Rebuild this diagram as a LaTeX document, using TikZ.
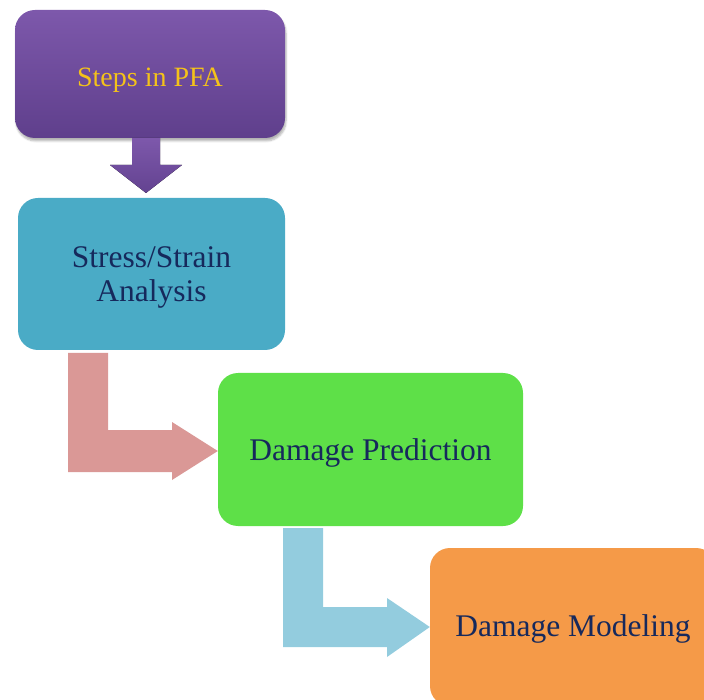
\documentclass[tikz,border=0pt]{standalone}
\usepackage{fontspec}
\setmainfont{Liberation Serif}
\usetikzlibrary{shadows.blur}
\definecolor{purpleTop}{HTML}{7D58AB}
\definecolor{purpleBot}{HTML}{5F3F8C}
\definecolor{gold}{HTML}{F4C21A}
\definecolor{teal}{HTML}{4AABC6}
\definecolor{navy}{HTML}{16295C}
\definecolor{rose}{HTML}{DA9896}
\definecolor{lime}{HTML}{5EE048}
\definecolor{sky}{HTML}{93CCDE}
\definecolor{tangerine}{HTML}{F59A48}
\tikzset{
  stepbox/.style={rounded corners=20pt, minimum width=#1, inner sep=0pt, align=center,
    font=\fontsize{31.5}{34}\selectfont, text=navy, text depth=0pt}
}
\begin{document}
\begin{tikzpicture}[x=1pt,y=-1pt]
\useasboundingbox (0,0) rectangle (704,700);
\clip (0,0) rectangle (704,700);

% boxes
\node[stepbox=270pt, minimum height=128pt, top color=purpleTop, bottom color=purpleBot,
  text=gold, font=\fontsize{28}{30}\selectfont, text height=26pt,
  blur shadow={shadow xshift=1pt, shadow yshift=-3pt, shadow blur steps=6, shadow opacity=30}]
  (pfa) at (150,74) {Steps in PFA};
\node[stepbox=267pt, minimum height=152pt, fill=teal] (stress) at (151.5,274) {Stress/Strain\\Analysis};
\node[stepbox=305pt, minimum height=153pt, fill=lime] (pred) at (370.5,449.5) {Damage Prediction};
\node[stepbox=286pt, minimum height=158pt, fill=tangerine, text depth=3pt] (model) at (573,627) {Damage Modeling};

% block arrows between steps
\fill[top color=purpleTop, bottom color=purpleBot!85!purpleTop]
  (132,138) -- (160,138) -- (160,165) -- (182,165) -- (146,193) -- (110,165) -- (132,165) -- cycle;
\fill[rose]
  (68,353) -- (108,353) -- (108,430) -- (172,430) -- (172,422) -- (pred.west |- 0,451)
  -- (172,480) -- (172,472) -- (68,472) -- cycle;
\fill[sky]
  (283,528) -- (323,528) -- (323,607) -- (387,607) -- (387,598) -- (model.west |- 0,627)
  -- (387,657) -- (387,647) -- (283,647) -- cycle;
\end{tikzpicture}
\end{document}
